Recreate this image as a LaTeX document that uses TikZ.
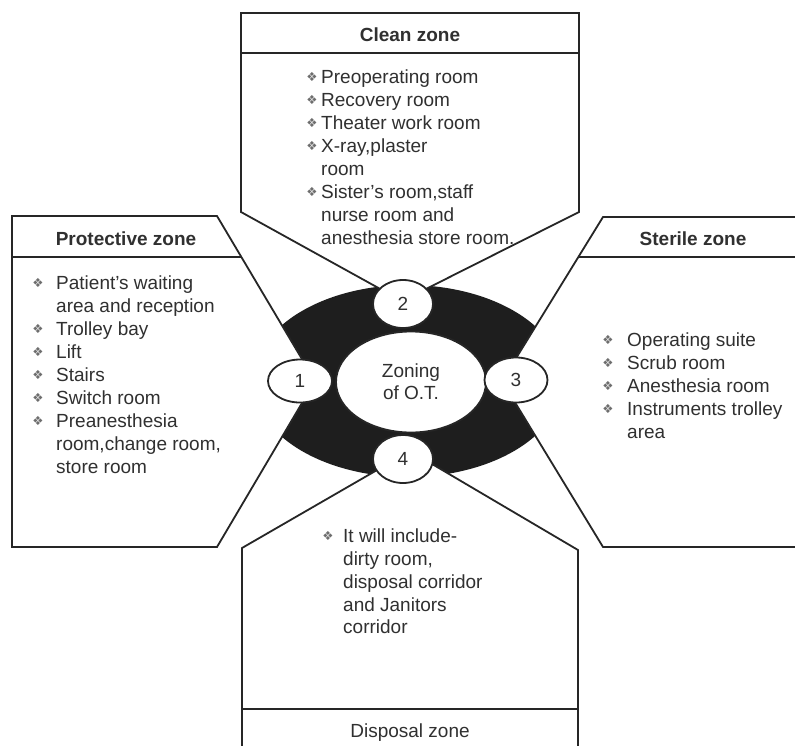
\documentclass[tikz,border=0pt]{standalone}
\usepackage{fontspec}
\setmainfont{Liberation Sans}
\newfontfamily\symfont{DejaVu Sans}
\usetikzlibrary{shapes.geometric}
\definecolor{ink}{HTML}{262626}
\definecolor{txt}{HTML}{303030}
\definecolor{bulc}{HTML}{6E6E6E}
\definecolor{ringc}{HTML}{1E1E1E}
\begin{document}
\begin{tikzpicture}[x=1pt,y=-1pt,
  zone/.style={draw=ink, line width=1.8pt, fill=white, line join=miter},
  hline/.style={draw=ink, line width=1.8pt},
  head/.style={font=\fontsize{19}{23}\selectfont\bfseries, text=txt, inner sep=0, anchor=base},
  item/.style={font=\fontsize{19}{23}\selectfont, text=txt, inner sep=0, anchor=base west},
  bulletmark/.style={font=\symfont\fontsize{12.5}{12.5}\selectfont, text=bulc, inner sep=0, anchor=center},
  numell/.style={ellipse, draw=ink, line width=1.8pt, fill=white, inner sep=0,
    font=\fontsize{19}{23}\selectfont, text=txt}
]
\useasboundingbox (0,0) rectangle (795,745);
\clip (0,0) rectangle (795,745);
\fill[white] (0,0) rectangle (795,745);

% black ring
\fill[ringc] (408,381) ellipse [x radius=155, y radius=96];

% zone shapes
\path[zone] (241,13) -- (579,13) -- (579,212) -- (402,301) -- (241,212) -- cycle;
\path[hline] (241,53) -- (579,53);

\path[zone] (12,216) -- (217,216) -- (315,381) -- (217,547) -- (12,547) -- cycle;
\path[hline] (12,257) -- (241,257);

\path[zone] (603,217) -- (815,217) -- (815,547) -- (603,547) -- (502,381) -- cycle;
\path[hline] (578,257) -- (815,257);

\path[zone] (242,548) -- (410,451) -- (578,550) -- (578,770) -- (242,770) -- cycle;
\path[hline] (242,709) -- (578,709);

% centre and numbered ellipses
\node[numell, minimum width=150pt, minimum height=101pt, align=center,
      font=\fontsize{19}{22}\selectfont] (core) at (411,382) {Zoning\\of O.T.};
\node[numell, minimum width=64pt, minimum height=43pt] (e1) at (300,381) {1};
\node[numell, minimum width=60pt, minimum height=48pt] (e2) at (403,304) {2};
\node[numell, minimum width=63pt, minimum height=45pt] (e3) at (516,380) {3};
\node[numell, minimum width=60pt, minimum height=48pt] (e4) at (403,459) {4};

% headers
\node[head] (hclean) at (410,41) {Clean zone};
\node[head] (hprot) at (126,245) {Protective zone};
\node[head] (hster) at (693,245) {Sterile zone};
\node[head, font=\fontsize{19}{23}\selectfont] (hdisp) at (410,737) {Disposal zone};

% clean list
\foreach \yy/\txtline [count=\i] in {83/{Preoperating room}, 106/{Recovery room},
   129/{Theater work room}, 152/{X-ray,plaster}, 175/{room}, 198/{Sister's room,staff},
   221/{nurse room and}, 244/{anesthesia store room.}}
  \node[item] (cl\i) at (321,\yy) {\txtline};
\foreach \yy [count=\i] in {83,106,129,152,198}
  \node[bulletmark] (cb\i) at (312,\yy-6.5) {❖};

% protective list
\foreach \yy/\txtline [count=\i] in {289/{Patient's waiting}, 312/{area and reception},
   335/{Trolley bay}, 358/{Lift}, 381/{Stairs}, 404/{Switch room}, 427/{Preanesthesia},
   450/{room,change room,}, 473/{store room}}
  \node[item] (pl\i) at (56,\yy) {\txtline};
\foreach \yy [count=\i] in {289,335,358,381,404,427}
  \node[bulletmark] (pb\i) at (38,\yy-6.5) {❖};

% sterile list
\foreach \yy/\txtline [count=\i] in {346/{Operating suite}, 369/{Scrub room},
   392/{Anesthesia room}, 415/{Instruments trolley}, 438/{area}}
  \node[item] (sl\i) at (627,\yy) {\txtline};
\foreach \yy [count=\i] in {346,369,392,415}
  \node[bulletmark] (sb\i) at (608,\yy-6.5) {❖};

% disposal list
\foreach \yy/\txtline [count=\i] in {542/{It will include-}, 565/{dirty room,},
   588/{disposal corridor}, 611/{and Janitors}, 633/{corridor}}
  \node[item] (dl\i) at (343,\yy) {\txtline};
\node[bulletmark] (db1) at (328,542-6.5) {❖};
\end{tikzpicture}
\end{document}
